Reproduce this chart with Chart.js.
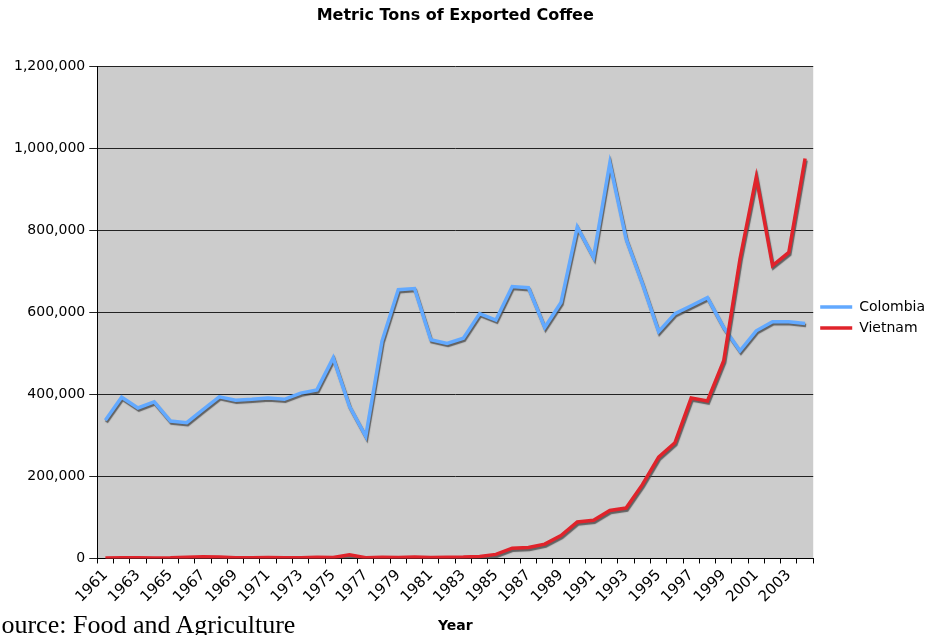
<!DOCTYPE html>
<html>
<head>
<meta charset="utf-8">
<script src="https://cdn.jsdelivr.net/npm/chart.js@4.4.1/dist/chart.umd.min.js"></script>
<style>
    html, body { margin: 0; padding: 0; background: #fff; }
    #wrap { position: relative; width: 935px; height: 635px; overflow: hidden; }
    #source {
        position: absolute; left: -13px; top: 612px;
        font-family: "Liberation Serif", serif; font-size: 26px; line-height: 26px;
        white-space: nowrap; color: #000;
    }
</style>
</head>
<body>
<div id="wrap">
    <canvas id="coffeeChart" width="935" height="635"></canvas>
    <div id="source">Source: Food and Agriculture</div>
</div>
<script>
// Years on the x axis
const years = [
    1961, 1962, 1963, 1964, 1965, 1966, 1967, 1968, 1969, 1970,
    1971, 1972, 1973, 1974, 1975, 1976, 1977, 1978, 1979, 1980,
    1981, 1982, 1983, 1984, 1985, 1986, 1987, 1988, 1989, 1990,
    1991, 1992, 1993, 1994, 1995, 1996, 1997, 1998, 1999, 2000,
    2001, 2002, 2003, 2004
];

// Metric tons exported
const colombia = [
    337000, 393000, 367000, 382000, 335000, 331000, 363000, 394000, 386000, 388000,
    391000, 388000, 403000, 411000, 489000, 371000, 298000, 530000, 655000, 658000,
    533000, 524000, 537000, 597000, 581000, 663000, 660000, 563000, 624000, 808000,
    734000, 964000, 779000, 670000, 553000, 597000, 616000, 636000, 563000, 506000,
    555000, 577000, 577000, 573000
];

const vietnam = [
    1000, 1500, 1500, 1200, 1500, 3000, 4000, 3500, 2000, 1800,
    2500, 1500, 2000, 3000, 2500, 9000, 2000, 3000, 2500, 3500,
    2500, 3000, 3500, 5000, 10000, 25000, 27000, 35000, 56000, 89000,
    93000, 117000, 123000, 180000, 247000, 282000, 391000, 384000, 482000, 730000,
    930000, 714000, 746000, 975000
];

const yTicks = [0, 200000, 400000, 600000, 800000, 1000000, 1200000];

const FONT = 'DejaVu Sans, Verdana, sans-serif';

// grey plot area
const plotBackground = {
    id: 'plotBackground',
    beforeDraw(chart) {
        const { ctx, chartArea } = chart;
        ctx.save();
        ctx.fillStyle = '#CCCCCC';
        ctx.fillRect(chartArea.left, chartArea.top, chartArea.right - chartArea.left, chartArea.bottom - chartArea.top);
        ctx.restore();
    }
};

// drop shadow under the lines
const lineShadow = {
    id: 'lineShadow',
    beforeDatasetDraw(chart) {
        const ctx = chart.ctx;
        ctx.save();
        ctx.shadowColor = 'rgba(70, 70, 70, 0.8)';
        ctx.shadowOffsetX = 1;
        ctx.shadowOffsetY = 2;
        ctx.shadowBlur = 1;
    },
    afterDatasetDraw(chart) {
        chart.ctx.restore();
    }
};

const ctx = document.getElementById('coffeeChart').getContext('2d');
new Chart(ctx, {
    type: 'line',
    data: {
        labels: years,
        datasets: [{
            label: 'Colombia',
            data: colombia,
            borderColor: '#62A9FF',
            backgroundColor: '#62A9FF',
            borderWidth: 3.5,
            pointRadius: 0,
            tension: 0,
            fill: false,
            order: 1
        }, {
            label: 'Vietnam',
            data: vietnam,
            borderColor: '#E0232B',
            backgroundColor: '#E0232B',
            borderWidth: 3.5,
            pointRadius: 0,
            tension: 0,
            fill: false,
            order: 0
        }]
    },
    options: {
        responsive: false,
        animation: false,
        devicePixelRatio: 1,
        layout: {
            padding: { left: 10, right: 0, top: 0, bottom: 0 }
        },
        plugins: {
            title: {
                display: true,
                text: 'Metric Tons of Exported Coffee',
                color: '#000',
                fullSize: false,
                font: { family: FONT, size: 16, weight: 'bold' },
                padding: { top: 6, bottom: 41 }
            },
            legend: {
                display: true,
                position: 'right',
                labels: {
                    usePointStyle: true,
                    pointStyle: 'line',
                    pointStyleWidth: 32,
                    color: '#000',
                    padding: 7,
                    font: { family: FONT, size: 14 },
                    sort: (a, b) => a.datasetIndex - b.datasetIndex
                }
            },
            tooltip: { enabled: false }
        },
        scales: {
            x: {
                offset: true,
                grid: {
                    offset: true,
                    drawOnChartArea: false,
                    drawTicks: true,
                    tickLength: 5,
                    color: '#000'
                },
                border: { color: '#000' },
                ticks: {
                    autoSkip: false,
                    minRotation: 45,
                    maxRotation: 45,
                    color: '#000',
                    font: { family: FONT, size: 15 },
                    callback: function (value, index) {
                        return index % 2 === 0 ? years[index] : '';
                    }
                },
                title: {
                    display: true,
                    text: 'Year',
                    color: '#000',
                    font: { family: FONT, size: 14, weight: 'bold' },
                    padding: { top: 9, bottom: 0 }
                }
            },
            y: {
                min: yTicks[0],
                max: yTicks[yTicks.length - 1],
                afterBuildTicks: function (scale) {
                    scale.ticks = yTicks.map(v => ({ value: v }));
                },
                grid: {
                    color: '#222',
                    tickLength: 8
                },
                border: { color: '#000' },
                ticks: {
                    padding: 4,
                    color: '#000',
                    font: { family: FONT, size: 14 },
                    callback: function (value) {
                        return value.toLocaleString('en-US');
                    }
                }
            }
        }
    },
    plugins: [plotBackground, lineShadow]
});
</script>
</body>
</html>
